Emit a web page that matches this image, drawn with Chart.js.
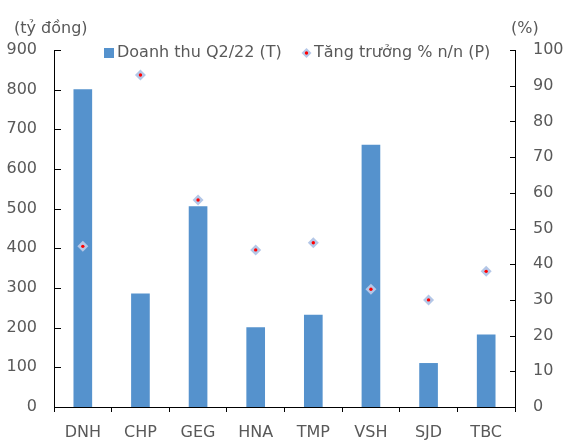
<!DOCTYPE html>
<html>
<head>
<meta charset="utf-8">
<script src="https://cdn.jsdelivr.net/npm/chart.js@4.4.0/dist/chart.umd.min.js"></script>
<style>
  html, body { margin: 0; padding: 0; background: #fff; }
  #wrap { width: 566px; height: 440px; }
</style>
</head>
<body>
<div id="wrap"><canvas id="chart" width="566" height="440"></canvas></div>
<script>
// Doanh thu Q2/22 (tỷ đồng, trục trái) và tăng trưởng n/n (%, trục phải)
const categories = ['DNH', 'CHP', 'GEG', 'HNA', 'TMP', 'VSH', 'SJD', 'TBC'];
const revenue = [800, 285, 505, 200, 232, 660, 110, 182];
const growth = [45, 93, 58, 44, 46, 33, 30, 38];
const leftTicks = [0, 100, 200, 300, 400, 500, 600, 700, 800, 900];
const rightTicks = [0, 10, 20, 30, 40, 50, 60, 70, 80, 90, 100];
const leftTitle = '(tỷ đồng)';
const rightTitle = '(%)';

const FONT = 'DejaVu Sans';
const TEXT = '#595959';
const BAR = '#5592CD';
const DIAMOND = '#B4C7E7';
const DOT = '#FF0000';

Chart.defaults.font.family = FONT;
Chart.defaults.font.size = 16;
Chart.defaults.color = TEXT;

function diamond(ctx, x, y, r) {
  ctx.fillStyle = DIAMOND;
  ctx.beginPath();
  ctx.moveTo(x, y - r);
  ctx.lineTo(x + r, y);
  ctx.lineTo(x, y + r);
  ctx.lineTo(x - r, y);
  ctx.closePath();
  ctx.fill();
  ctx.fillStyle = DOT;
  ctx.beginPath();
  ctx.arc(x, y, 1.7, 0, Math.PI * 2);
  ctx.fill();
}

// vạch chia hướng vào trong cho hai trục tung + chấm đỏ giữa marker
const decor = {
  id: 'decor',
  afterDatasetsDraw(chart) {
    const ctx = chart.ctx;
    const meta = chart.getDatasetMeta(0);
    ctx.save();
    ctx.fillStyle = DOT;
    meta.data.forEach(function(pt) {
      ctx.beginPath();
      ctx.arc(pt.x, pt.y, 1.7, 0, Math.PI * 2);
      ctx.fill();
    });
    ctx.restore();
  },
  afterDraw(chart) {
    const ctx = chart.ctx;
    const y = chart.scales.y;
    const y1 = chart.scales.y1;
    ctx.save();
    ctx.strokeStyle = '#000';
    ctx.lineWidth = 1;
    ctx.beginPath();
    y.ticks.forEach(function(t) {
      const py = Math.round(y.getPixelForValue(t.value)) + 0.5;
      ctx.moveTo(y.right, py);
      ctx.lineTo(y.right + 7, py);
    });
    y1.ticks.forEach(function(t) {
      const py = Math.round(y1.getPixelForValue(t.value)) + 0.5;
      ctx.moveTo(y1.left, py);
      ctx.lineTo(y1.left - 5, py);
    });
    ctx.stroke();

    // tiêu đề đơn vị trên hai trục
    ctx.font = '16px "' + FONT + '"';
    ctx.fillStyle = TEXT;
    ctx.textBaseline = 'middle';
    ctx.textAlign = 'left';
    ctx.fillText(leftTitle, 14, 29);
    ctx.fillText(rightTitle, 511, 29);

    // chú thích
    const ds = chart.data.datasets;
    ctx.fillStyle = ds[1].backgroundColor;
    ctx.fillRect(104, 48, 10, 10);
    ctx.fillStyle = TEXT;
    ctx.fillText(ds[1].label, 117, 53);

    diamond(ctx, 306.5, 53, 5);
    ctx.fillStyle = TEXT;
    ctx.fillText(ds[0].label, 314, 53);
    ctx.restore();
  }
};

new Chart(document.getElementById('chart'), {
  type: 'bar',
  data: {
    labels: categories,
    datasets: [
      {
        type: 'line',
        label: 'Tăng trưởng % n/n (P)',
        data: growth,
        yAxisID: 'y1',
        showLine: false,
        pointStyle: 'rectRot',
        pointRadius: 5.5,
        pointHoverRadius: 5.5,
        pointBackgroundColor: DIAMOND,
        pointBorderWidth: 0,
        order: 0
      },
      {
        label: 'Doanh thu Q2/22 (T)',
        data: revenue,
        yAxisID: 'y',
        backgroundColor: BAR,
        barThickness: 18,
        order: 1
      }
    ]
  },
  options: {
    responsive: false,
    animation: false,
    layout: { padding: { top: 50, left: 0, right: 0, bottom: 0 } },
    plugins: {
      legend: { display: false },
      tooltip: { enabled: false }
    },
    scales: {
      x: {
        offset: true,
        grid: { display: true, drawOnChartArea: false, drawTicks: true, tickLength: 5, color: '#000', offset: true },
        border: { color: '#000', width: 1 },
        ticks: { padding: 11, color: TEXT },
        afterFit: function(s) { s.height = 33; }
      },
      y: {
        position: 'left',
        min: 0,
        max: 900,
        grid: { display: false, drawTicks: false },
        border: { display: true, color: '#000', width: 1 },
        ticks: { padding: 17, color: TEXT },
        afterBuildTicks: function(s) { s.ticks = leftTicks.map(function(v) { return { value: v }; }); },
        afterFit: function(s) { s.width = 54; }
      },
      y1: {
        position: 'right',
        min: 0,
        max: 100,
        grid: { display: false, drawTicks: false },
        border: { display: true, color: '#000', width: 1 },
        ticks: { padding: 18, color: TEXT },
        afterBuildTicks: function(s) { s.ticks = rightTicks.map(function(v) { return { value: v }; }); },
        afterFit: function(s) { s.width = 51; }
      }
    }
  },
  plugins: [decor]
});
</script>
</body>
</html>
